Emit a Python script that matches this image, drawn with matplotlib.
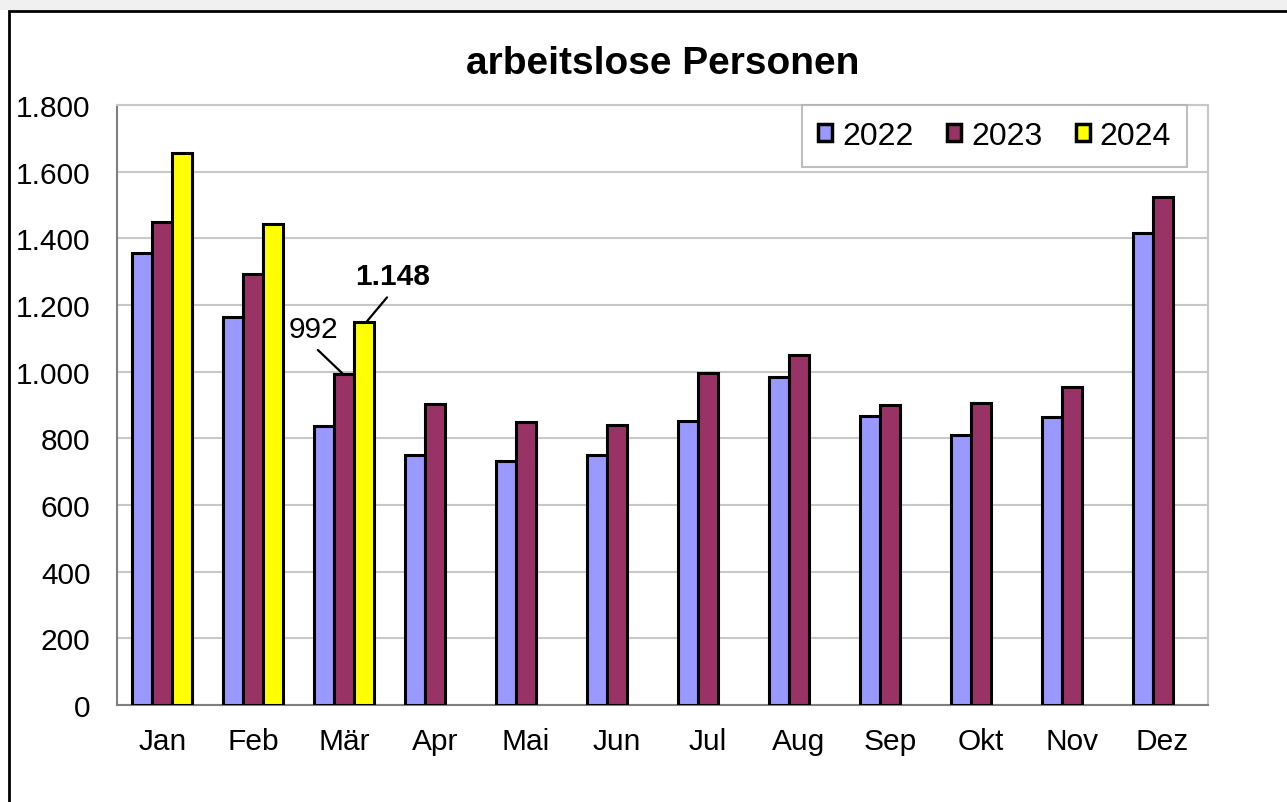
import numpy as np
import matplotlib
matplotlib.use('Agg')
import matplotlib.pyplot as plt
from matplotlib.patches import Rectangle

plt.rcParams['font.family'] = ['Liberation Sans', 'DejaVu Sans']

months = ['Jan', 'Feb', 'Mär', 'Apr', 'Mai', 'Jun', 'Jul', 'Aug', 'Sep', 'Okt', 'Nov', 'Dez']
years = ['2022', '2023', '2024']
v2022 = [1355, 1163, 838, 751, 733, 751, 853, 985, 868, 811, 865, 1415]
v2023 = [1448, 1292, 992, 904, 850, 841, 995, 1049, 901, 907, 955, 1523]
v2024 = [1656, 1442, 1148, np.nan, np.nan, np.nan, np.nan, np.nan, np.nan, np.nan, np.nan, np.nan]
colors = ['#9999ff', '#993366', '#ffff00']

fig = plt.figure(figsize=(12.87, 8.03), dpi=100)
W, H = 1287, 803

# grey strip on top and the black frame around the chart
fig.patches.append(Rectangle((0, 1 - 11 / H), 1, 11 / H, transform=fig.transFigure,
                             facecolor='#f0f0f0', edgecolor='none', zorder=0))
fig.patches.append(Rectangle((9 / W, -0.05), 1.1, 1 - 12 / H + 0.05, transform=fig.transFigure,
                             facecolor='none', edgecolor='black', linewidth=2, zorder=1))

ax = fig.add_axes([117 / W, 1 - 706 / H, (1208 - 117) / W, (706 - 106) / H])

x = np.arange(len(months))
w = 0.22
for i, (vals, c, lab) in enumerate(zip([v2022, v2023, v2024], colors, years)):
    ax.bar(x + (i - 1) * w, vals, w, color=c, edgecolor='black', linewidth=2.2,
           label=lab, zorder=3)

ax.set_xlim(-0.5, len(months) - 0.5)
ax.set_ylim(0, 1800)
ax.set_yticks(range(0, 1801, 200))
ax.set_yticklabels(['{:,}'.format(v).replace(',', '.') for v in range(0, 1801, 200)])
ax.set_xticks(x)
ax.set_xticklabels(months)
ax.tick_params(axis='both', length=0, labelsize=21.5)
ax.tick_params(axis='y', pad=19)
ax.tick_params(axis='x', pad=16)
ax.grid(axis='y', color='#c8c8c8', linewidth=1.5, zorder=0)
ax.set_axisbelow(True)
for s in ['top', 'right']:
    ax.spines[s].set_color('#c8c8c8')
    ax.spines[s].set_linewidth(1.5)
for s in ['left', 'bottom']:
    ax.spines[s].set_color('#808080')
    ax.spines[s].set_linewidth(1.5)

ax.set_title('arbeitslose Personen', fontsize=28, fontweight='bold', pad=23)

# labels for März
ax.annotate('992', xy=(1.99, v2023[2]), xytext=(1.66, 1127), fontsize=21.5,
            ha='center', va='center',
            arrowprops=dict(arrowstyle='-', color='black', lw=1.6, relpos=(0.45, 0),
                            shrinkA=4, shrinkB=0))
ax.annotate('1.148', xy=(2.24, v2024[2]), xytext=(2.535, 1286), fontsize=21.5,
            fontweight='bold', ha='center', va='center',
            arrowprops=dict(arrowstyle='-', color='black', lw=1.6, relpos=(0.5, 0),
                            shrinkA=4, shrinkB=0))

leg = ax.legend(loc='upper right', bbox_to_anchor=(1070 / (1208 - 117), 1.0), ncol=3,
                fontsize=23, frameon=True, fancybox=False, handlelength=0.45,
                handleheight=0.45, handletextpad=0.3, columnspacing=1.05,
                borderpad=0.5, borderaxespad=0)
leg.get_frame().set_edgecolor('#b0b0b0')
leg.get_frame().set_linewidth(1.5)
for p in leg.get_patches():
    p.set_linewidth(2.5)

fig.savefig('out.png', dpi=100)
